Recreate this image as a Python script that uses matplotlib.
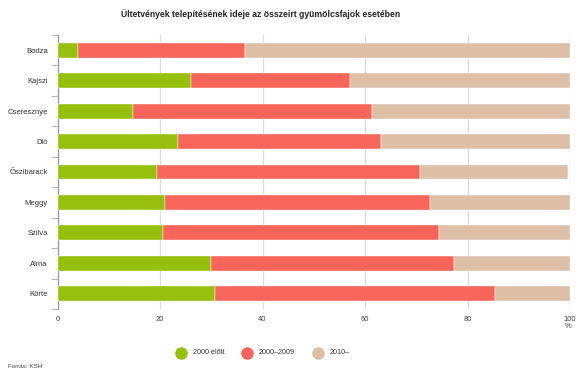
import matplotlib.pyplot as plt
import numpy as np

# adatok (felülről lefelé)
fajok = ['Bodza', 'Kajszi', 'Cseresznye', 'Dió', 'Őszibarack', 'Meggy', 'Szilva', 'Alma', 'Körte']
elott_2000 = [4.0, 26.1, 14.7, 23.5, 19.4, 21.0, 20.6, 30.0, 30.7]
kozott_2000_2009 = [32.6, 31.0, 46.7, 39.6, 51.4, 51.7, 53.8, 47.4, 54.7]
utan_2010 = [63.4, 42.9, 38.6, 36.9, 28.9, 27.3, 25.6, 22.6, 14.6]

sorozatok = ['2000 előtt', '2000–2009', '2010–']
szinek = ['#97BF0D', '#F8655A', '#DDBFA6']

plt.rcParams['font.family'] = ['Liberation Sans', 'DejaVu Sans']

W, H = 580, 387
fig = plt.figure(figsize=(W / 100, H / 100), dpi=100)
ax = fig.add_axes([57.5 / W, 1 - 309 / H, 512.5 / W, 274 / H])

y = np.arange(len(fajok))
bal = np.zeros(len(fajok))
for ertekek, nev, szin in zip([elott_2000, kozott_2000_2009, utan_2010], sorozatok, szinek):
    ax.barh(y, ertekek, left=bal, height=0.49, color=szin, label=nev,
            edgecolor='white', linewidth=0.3, zorder=3)
    bal = bal + np.array(ertekek)

ax.set_ylim(len(fajok) - 0.5, -0.5)
ax.set_xlim(0, 100)
ax.set_yticks(y)
ax.set_yticklabels(fajok, fontsize=5.5, color='#333333')
ax.set_yticks(np.arange(-0.5, len(fajok)), minor=True)
ax.tick_params(axis='y', which='major', length=0, pad=7)
ax.tick_params(axis='y', which='minor', length=5, color='#BBBBBB', width=0.8)

ax.set_xticks([0, 20, 40, 60, 80, 100])
ax.tick_params(axis='x', length=0, labelsize=5.5, labelcolor='#444444', pad=5)
ax.grid(axis='x', color='#DDDDDD', linewidth=0.9, zorder=0)

for s in ['top', 'right', 'bottom']:
    ax.spines[s].set_visible(False)
ax.spines['left'].set_color('#999999')
ax.spines['left'].set_linewidth(0.9)

fig.text(568 / W, 1 - 326 / H, '%', fontsize=5.5, color='#444444', ha='center', va='center')
fig.text(261 / W, 1 - 14 / H, 'Ültetvények telepítésének ideje az összeirt gyümölcsfajok esetében',
         fontsize=6.2, fontweight='bold', ha='center', va='center', color='#222222')
fig.text(8 / W, 1 - 366 / H, 'Forrás: KSH', fontsize=4.5, color='#444444', va='center')

# jelmagyarázat kézzel, kör alakú jelölőkkel
leg_x = [181, 247, 318]
leg_y = 1 - 353 / H
for xk, nev, szin in zip(leg_x, sorozatok, szinek):
    fig.add_artist(plt.Line2D([xk / W], [leg_y], marker='o', markersize=8, color=szin,
                              linestyle='', transform=fig.transFigure))
    fig.text((xk + 12) / W, leg_y, nev, fontsize=5.2, color='#333333', va='center')

plt.savefig('out.png', dpi=100)
